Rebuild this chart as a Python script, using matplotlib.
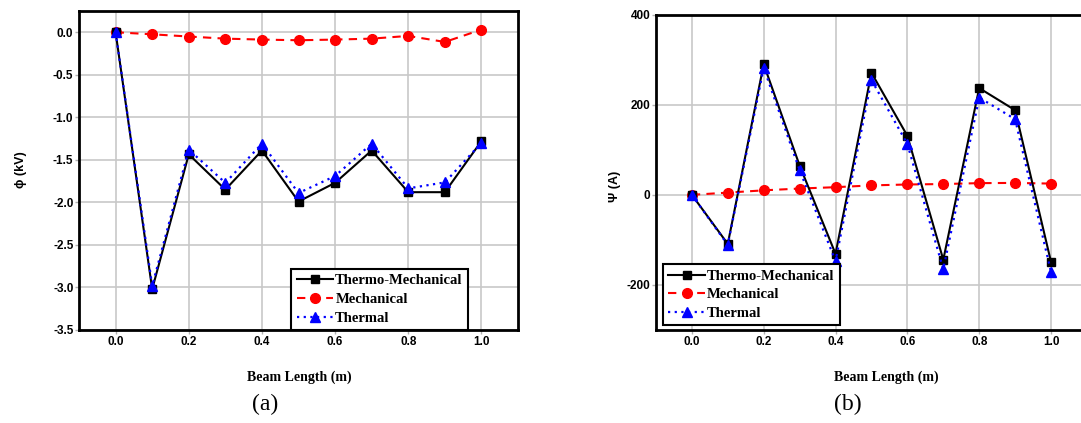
import matplotlib.pyplot as plt

beam_x = [0.0, 0.1, 0.2, 0.3, 0.4, 0.5, 0.6, 0.7, 0.8, 0.9, 1.0]

# electric potential (kV)
phi_thermo_mech = [0.0, -3.02, -1.435, -1.85, -1.39, -1.99, -1.77, -1.39, -1.88, -1.88, -1.28]
phi_mech = [0.0, -0.024, -0.05, -0.075, -0.086, -0.094, -0.086, -0.075, -0.043, -0.114, 0.031]
phi_thermal = [0.0, -2.98, -1.38, -1.77, -1.31, -1.89, -1.69, -1.31, -1.835, -1.765, -1.30]

# current (A)
psi_thermo_mech = [0.0, -109, 290, 65, -131, 271, 131, -144, 237, 188, -149]
psi_mech = [0.0, 5, 10, 14, 17, 21, 23, 24, 26, 26.5, 25]
psi_thermal = [0.0, -111, 282, 55, -147, 255, 113, -165, 216, 168, -171]

x_ticks = [0.0, 0.2, 0.4, 0.6, 0.8, 1.0]

SANS = "Liberation Sans"
SERIF = "Liberation Serif"


def draw_panel(ax, tm, mech, th):
    ax.plot(beam_x, tm, color="black", linestyle="-", linewidth=1.5,
            marker="s", markersize=6, label="Thermo-Mechanical", zorder=4)
    ax.plot(beam_x, mech, color="red", linestyle=(0, (4, 3)), linewidth=1.5,
            marker="o", markersize=7, label="Mechanical", zorder=3)
    ax.plot(beam_x, th, color="blue", linestyle=(0, (1, 2)), linewidth=1.6,
            marker="^", markersize=7, label="Thermal", zorder=5)
    ax.set_xlim(-0.1, 1.1)
    ax.set_xticks(x_ticks)
    ax.set_xticklabels([f"{v:.1f}" for v in x_ticks])
    ax.grid(True, color="#c8c8c8", linewidth=1.2)
    ax.set_axisbelow(True)
    for s in ax.spines.values():
        s.set_linewidth(2.0)
        s.set_color("black")
    ax.tick_params(length=3, width=1, color="#b0b0b0", pad=1, labelsize=8.5)
    for lab in ax.get_xticklabels() + ax.get_yticklabels():
        lab.set_fontfamily(SANS)
        lab.set_fontweight("bold")
    leg = ax.legend(prop={"family": SERIF, "weight": "bold", "size": 10.5},
                    fancybox=False, framealpha=1, edgecolor="black",
                    borderpad=0.35, labelspacing=0.38, handlelength=2.5,
                    handletextpad=0.15, borderaxespad=0)
    leg.get_frame().set_linewidth(1.5)
    return leg


fig = plt.figure(figsize=(10.81, 4.23), dpi=100)

ax1 = fig.add_axes([0.0731, 0.2199, 0.4061, 0.7541])
draw_panel(ax1, phi_thermo_mech, phi_mech, phi_thermal)
ax1.set_ylim(-3.5, 0.25)
ax1.set_yticks([0.0, -0.5, -1.0, -1.5, -2.0, -2.5, -3.0, -3.5])
ax1.set_yticklabels([f"{v:.1f}" for v in ax1.get_yticks()],
                    fontfamily=SANS, fontweight="bold")
ax1.get_legend().set_bbox_to_anchor((0.484, 0.0), transform=ax1.transAxes)
ax1.get_legend()._loc = 3

ax2 = fig.add_axes([0.6068, 0.2199, 0.3987, 0.7454])
draw_panel(ax2, psi_thermo_mech, psi_mech, psi_thermal)
ax2.set_ylim(-300, 400)
ax2.set_yticks([-200, 0, 200, 400])
ax2.set_yticklabels(["-200", "0", "200", "400"], fontfamily=SANS, fontweight="bold")
ax2.get_legend().set_bbox_to_anchor((0.017, 0.015), transform=ax2.transAxes)
ax2.get_legend()._loc = 3

fig.text(0.019, 0.6, "\u03d5 (kV)", rotation=90, ha="center", va="center",
         fontfamily=SANS, fontweight="bold", fontsize=9)
fig.text(0.569, 0.56, "\u03a8 (A)", rotation=90, ha="center", va="center",
         fontfamily=SANS, fontweight="bold", fontsize=9)

fig.text(0.277, 0.108, "Beam Length (m)", ha="center", va="center",
         fontfamily=SERIF, fontweight="bold", fontsize=10)
fig.text(0.82, 0.108, "Beam Length (m)", ha="center", va="center",
         fontfamily=SERIF, fontweight="bold", fontsize=10)

fig.text(0.245, 0.045, "(a)", ha="center", va="center", fontfamily=SERIF, fontsize=17)
fig.text(0.784, 0.045, "(b)", ha="center", va="center", fontfamily=SERIF, fontsize=17)

fig.savefig("out.png", dpi=100)
